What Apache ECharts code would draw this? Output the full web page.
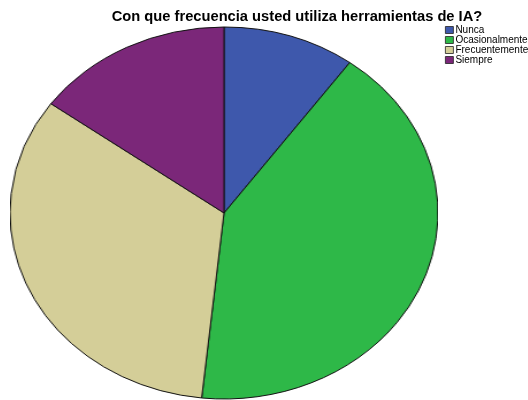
<!DOCTYPE html>
<html>
<head>
<meta charset="utf-8">
<script src="https://cdn.jsdelivr.net/npm/echarts@6/dist/echarts.min.js"></script>
<style>
  html, body { margin: 0; padding: 0; background: #fff; }
  #wrap { position: relative; width: 528px; height: 400px; overflow: hidden; }
  #pie {
    position: absolute; left: 38px; top: 0; width: 372px; height: 400px;
    transform: scaleX(1.1505); transform-origin: 186px 213px;
  }
  #over { position: absolute; left: 0; top: 0; width: 528px; height: 400px; }
</style>
</head>
<body>
<div id="wrap">
  <div id="pie"></div>
  <div id="over"></div>
</div>
<script>
const titleText = 'Con que frecuencia usted utiliza herramientas de IA?';
const categories = ['Nunca', 'Ocasionalmente', 'Frecuentemente', 'Siempre'];
const counts = [6, 25, 20, 9];
const colors = ['#3e58ac', '#2eb848', '#d4ce98', '#7b2779'];

const pieData = categories.map((name, i) => ({
  name: name,
  value: counts[i],
  itemStyle: { color: colors[i] }
}));

// the pie itself (stretched horizontally with css to get the ellipse)
const pieChart = echarts.init(document.getElementById('pie'), null, { renderer: 'canvas' });
pieChart.setOption({
  animation: false,
  series: [{
    type: 'pie',
    center: [186, 213],
    radius: [0, 186],
    startAngle: 90,
    clockwise: true,
    silent: true,
    label: { show: false },
    labelLine: { show: false },
    itemStyle: { borderColor: '#111', borderWidth: 1 },
    data: pieData
  }]
});

// title + legend on top, unscaled
const overChart = echarts.init(document.getElementById('over'));
overChart.setOption({
  animation: false,
  title: {
    text: titleText,
    left: 292,
    textAlign: 'center',
    top: 4,
    textStyle: {
      fontFamily: 'Liberation Sans, Arial, sans-serif',
      fontSize: 14.7,
      fontWeight: 'bold',
      color: '#000'
    }
  },
  legend: {
    orient: 'vertical',
    left: 445,
    top: 25,
    padding: 0,
    itemWidth: 8,
    itemHeight: 7,
    itemGap: 0,
    icon: 'rect',
    selectedMode: false,
    data: categories,
    itemStyle: { borderColor: '#222', borderWidth: 0.8 },
    textStyle: {
      fontFamily: 'Liberation Sans, Arial, sans-serif',
      fontSize: 10,
      lineHeight: 10,
      color: '#000',
      padding: [0, 0, 0, -3]
    }
  },
  series: [{
    type: 'pie',
    center: [-500, -500],
    radius: [0, 1],
    silent: true,
    label: { show: false },
    data: pieData
  }]
});
</script>
</body>
</html>
